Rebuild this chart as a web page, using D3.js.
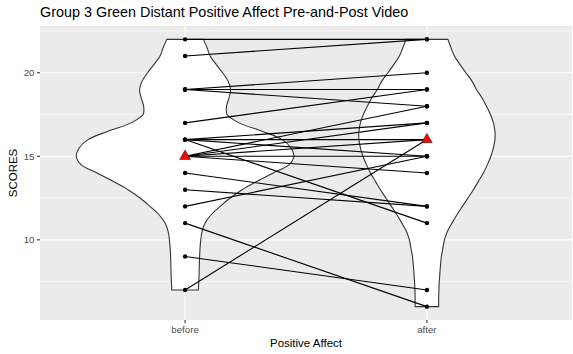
<!DOCTYPE html>
<html>
<head>
<meta charset="utf-8">
<script src="https://cdn.jsdelivr.net/npm/d3@7"></script>
<style>
  html, body { margin: 0; padding: 0; background: #fff; }
  svg { display: block; font-family: "Liberation Sans", Arial, sans-serif; }
</style>
</head>
<body>
<svg id="chart" width="573" height="354"></svg>
<script>
// Conditions on the x axis
const conditions = ["before", "after"];

// Paired scores, one entry per participant (before -> after)
const beforeScores = [22, 21, 19, 19, 19, 17, 16, 16, 16, 16, 15, 15, 15, 15, 15, 14, 13, 12, 11, 9, 7];
const afterScores  = [22, 22, 20, 19, 18, 19, 17, 16, 15, 11, 18, 17, 16, 15, 14, 12, 12, 15, 6, 7, 16];

// Estimated density profiles (relative to the widest violin) at each score level
const beforeDensityScores = [7, 8, 9, 10, 10.5, 11, 11.5, 12, 12.5, 13, 13.5, 14, 14.5, 15, 15.5, 16, 16.5, 17, 17.5, 18, 18.5, 19, 19.5, 20, 20.5, 21, 21.5, 22];
const beforeDensity = [0.122, 0.129, 0.133, 0.144, 0.156, 0.184, 0.239, 0.322, 0.414, 0.524, 0.662, 0.809, 0.956, 1.0, 0.974, 0.892, 0.708, 0.496, 0.386, 0.381, 0.404, 0.418, 0.395, 0.345, 0.285, 0.230, 0.202, 0.168];
const afterDensityScores = [6, 7, 8, 9, 9.5, 10, 10.5, 11, 11.5, 12, 12.5, 13, 13.5, 14, 14.5, 15, 15.5, 16, 16.5, 17, 17.5, 18, 18.5, 19, 19.5, 20, 20.5, 21, 21.5, 22];
const afterDensity = [0.108, 0.110, 0.119, 0.133, 0.147, 0.161, 0.188, 0.230, 0.276, 0.326, 0.377, 0.427, 0.473, 0.519, 0.556, 0.588, 0.611, 0.625, 0.625, 0.611, 0.584, 0.547, 0.506, 0.455, 0.414, 0.358, 0.303, 0.253, 0.221, 0.193];

// Axis ticks
const yMajorTicks = [10, 15, 20];
const yMinorTicks = [7.5, 12.5, 17.5, 22.5];

const titleText = "Group 3 Green Distant Positive Affect Pre-and-Post Video";
const xTitle = "Positive Affect";
const yTitle = "SCORES";

const svg = d3.select("#chart");
const panel = { left: 40, right: 572, top: 26, bottom: 320 };

// Scales (continuous y expanded by 5% of the data range)
const allScores = beforeScores.concat(afterScores);
const [lo, hi] = d3.extent(allScores);
const pad = (hi - lo) * 0.05;
const y = d3.scaleLinear().domain([lo - pad, hi + pad]).range([panel.bottom, panel.top]);
const x = d3.scalePoint().domain(conditions).range([panel.left, panel.right]).padding(0.6);
const halfWidth = d3.scaleLinear().domain([0, 1]).range([0, 0.45 * x.step()]);

// Panel background and grid
svg.append("rect")
  .attr("x", panel.left).attr("y", panel.top)
  .attr("width", panel.right - panel.left).attr("height", panel.bottom - panel.top)
  .attr("fill", "#EBEBEB");

svg.append("g").selectAll("line").data(yMinorTicks).join("line")
  .attr("x1", panel.left).attr("x2", panel.right)
  .attr("y1", d => y(d)).attr("y2", d => y(d))
  .attr("stroke", "#fff").attr("stroke-width", 0.6);

svg.append("g").selectAll("line").data(yMajorTicks).join("line")
  .attr("x1", panel.left).attr("x2", panel.right)
  .attr("y1", d => y(d)).attr("y2", d => y(d))
  .attr("stroke", "#fff").attr("stroke-width", 1.2);

svg.append("g").selectAll("line").data(conditions).join("line")
  .attr("x1", d => x(d)).attr("x2", d => x(d))
  .attr("y1", panel.top).attr("y2", panel.bottom)
  .attr("stroke", "#fff").attr("stroke-width", 1.2);

// Violins
const violins = [
  { cond: "before", scores: beforeDensityScores, dens: beforeDensity },
  { cond: "after", scores: afterDensityScores, dens: afterDensity }
];
violins.forEach(v => {
  const cx = x(v.cond);
  const pts = v.scores.map((s, i) => ({ s, d: v.dens[i] }));
  const area = d3.area()
    .y(p => y(p.s))
    .x0(p => cx - halfWidth(p.d))
    .x1(p => cx + halfWidth(p.d))
    .curve(d3.curveCatmullRom);
  svg.append("path")
    .attr("d", area(pts) + "Z")
    .attr("fill", "#fff")
    .attr("stroke", "#333")
    .attr("stroke-width", 1.1);
});

// Paired lines
const pairs = beforeScores.map((b, i) => ({ b, a: afterScores[i] }));
svg.append("g").selectAll("line").data(pairs).join("line")
  .attr("x1", x("before")).attr("x2", x("after"))
  .attr("y1", d => y(d.b)).attr("y2", d => y(d.a))
  .attr("stroke", "#000").attr("stroke-width", 1.1);

// Points
const points = beforeScores.map(s => ({ c: "before", s }))
  .concat(afterScores.map(s => ({ c: "after", s })));
svg.append("g").selectAll("circle").data(points).join("circle")
  .attr("cx", d => x(d.c)).attr("cy", d => y(d.s)).attr("r", 2.2)
  .attr("fill", "#000");

// Median markers
const medians = [
  { c: "before", s: d3.median(beforeScores) },
  { c: "after", s: d3.median(afterScores) }
];
svg.append("g").selectAll("path").data(medians).join("path")
  .attr("d", d3.symbol(d3.symbolTriangle, 50))
  .attr("transform", d => `translate(${x(d.c)},${y(d.s)})`)
  .attr("fill", "#FF0000").attr("stroke", "#222").attr("stroke-width", 0.6);

// Y axis ticks and labels
const yAxis = svg.append("g");
yAxis.selectAll("line").data(yMajorTicks).join("line")
  .attr("x1", panel.left - 3).attr("x2", panel.left)
  .attr("y1", d => y(d)).attr("y2", d => y(d))
  .attr("stroke", "#333").attr("stroke-width", 1.1);
yAxis.selectAll("text").data(yMajorTicks).join("text")
  .attr("x", panel.left - 5.5).attr("y", d => y(d))
  .attr("dy", "0.35em").attr("text-anchor", "end")
  .attr("font-size", 9.7).attr("fill", "#4D4D4D")
  .text(d => d);

// X axis ticks and labels
const xAxis = svg.append("g");
xAxis.selectAll("line").data(conditions).join("line")
  .attr("x1", d => x(d)).attr("x2", d => x(d))
  .attr("y1", panel.bottom).attr("y2", panel.bottom + 3)
  .attr("stroke", "#333").attr("stroke-width", 1.1);
xAxis.selectAll("text").data(conditions).join("text")
  .attr("x", d => x(d)).attr("y", panel.bottom + 12.5)
  .attr("text-anchor", "middle")
  .attr("font-size", 9.7).attr("fill", "#4D4D4D")
  .text(d => d);

// Titles
svg.append("text")
  .attr("x", (panel.left + panel.right) / 2).attr("y", 346.5)
  .attr("text-anchor", "middle").attr("font-size", 11.5).attr("fill", "#000")
  .text(xTitle);

svg.append("text")
  .attr("transform", `translate(17,${(panel.top + panel.bottom) / 2}) rotate(-90)`)
  .attr("text-anchor", "middle").attr("font-size", 11.5).attr("fill", "#000")
  .text(yTitle);

svg.append("text")
  .attr("x", panel.left).attr("y", 17.3)
  .attr("font-size", 14.4).attr("fill", "#000")
  .text(titleText);
</script>
</body>
</html>
